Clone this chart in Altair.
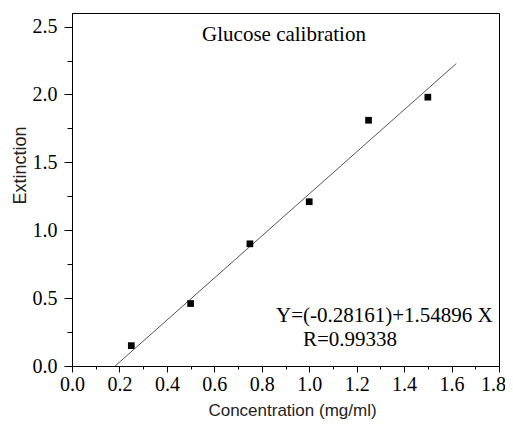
import altair as alt
import pandas as pd

# data
conc = [0.25, 0.50, 0.75, 1.00, 1.25, 1.50]
extinction = [0.15, 0.46, 0.90, 1.21, 1.81, 1.98]
intercept = -0.28161
slope = 1.54896
fit_x = [0.1818, 1.62]
x_major = [0.0, 0.2, 0.4, 0.6, 0.8, 1.0, 1.2, 1.4, 1.6, 1.8]
x_minor = [0.1, 0.3, 0.5, 0.7, 0.9, 1.1, 1.3, 1.5, 1.7]
y_major = [0.0, 0.5, 1.0, 1.5, 2.0, 2.5]
y_minor = [0.25, 0.75, 1.25, 1.75, 2.25]
title_text = "Glucose calibration"
eq_text = "Y=(-0.28161)+1.54896 X"
r_text = "R=0.99338"

pts = pd.DataFrame({"c": conc, "e": extinction})
fit = pd.DataFrame({"c": fit_x, "e": [intercept + slope * v for v in fit_x]})

xs = alt.Scale(domain=[0, 1.8], nice=False, zero=False)
ys = alt.Scale(domain=[0, 2.6], nice=False, zero=False)

serif = "Liberation Serif"
sans = "Liberation Sans"

x_axis = alt.Axis(values=x_major, format=".1f", tickSize=6, labelFont=serif, labelFontSize=20,
                  labelColor="black", labelPadding=2, domainColor="black", tickColor="black",
                  labelOffset={"condition": {"test": "datum.value >= 1.79", "value": -6}, "value": 0},
                  grid=False, title="Concentration (mg/ml)", titleFont=sans, titleFontSize=17,
                  titleFontWeight="normal", titleColor="#222", titleX=220, titleY=44,
                  titleBaseline="middle", titleAnchor="middle", labelFlush=False)
y_axis = alt.Axis(values=y_major, format=".1f", tickSize=8, labelFont=serif, labelFontSize=20,
                  labelColor="black", labelPadding=7, domainColor="black", tickColor="black",
                  grid=False, title="Extinction", titleFont=sans, titleFontSize=18,
                  titleFontWeight="normal", titleColor="#222", titleX=-52, titleY=152,
                  titleBaseline="middle", titleAngle=-90, labelFlush=False)
x_minor_axis = alt.Axis(values=x_minor, tickSize=3, labels=False, domain=False, grid=False,
                        title=None, tickColor="black", orient="bottom")
y_minor_axis = alt.Axis(values=y_minor, tickSize=5, labels=False, domain=False, grid=False,
                        title=None, tickColor="black", orient="left")

line = alt.Chart(fit).mark_line(color="#555", strokeWidth=1).encode(
    x=alt.X("c:Q", scale=xs, axis=x_axis),
    y=alt.Y("e:Q", scale=ys, axis=y_axis),
)
points = alt.Chart(pts).mark_point(shape="square", filled=True, color="black", size=45, opacity=1).encode(
    x=alt.X("c:Q", scale=xs, axis=x_minor_axis),
    y=alt.Y("e:Q", scale=ys, axis=y_minor_axis),
)

t1 = alt.Chart(pd.DataFrame({"t": [title_text]})).mark_text(
    font=serif, fontSize=21, color="black", align="center", baseline="middle"
).encode(text="t:N", x=alt.value(212), y=alt.value(22))
t2 = alt.Chart(pd.DataFrame({"t": [eq_text]})).mark_text(
    font=serif, fontSize=21, color="black", align="left", baseline="middle"
).encode(text="t:N", x=alt.value(204), y=alt.value(303))
t3 = alt.Chart(pd.DataFrame({"t": [r_text]})).mark_text(
    font=serif, fontSize=21, color="black", align="left", baseline="middle"
).encode(text="t:N", x=alt.value(231), y=alt.value(327))

chart = alt.layer(line, points, t1, t2, t3).resolve_axis(x="independent", y="independent").properties(
    width=427, height=353,
    autosize=alt.AutoSizeParams(type="none"),
    padding={"left": 64, "top": 5, "right": 6, "bottom": 56},
).configure_view(stroke="black", strokeWidth=1)

chart.save("out.html", embed_options={"renderer": "svg", "actions": False})
